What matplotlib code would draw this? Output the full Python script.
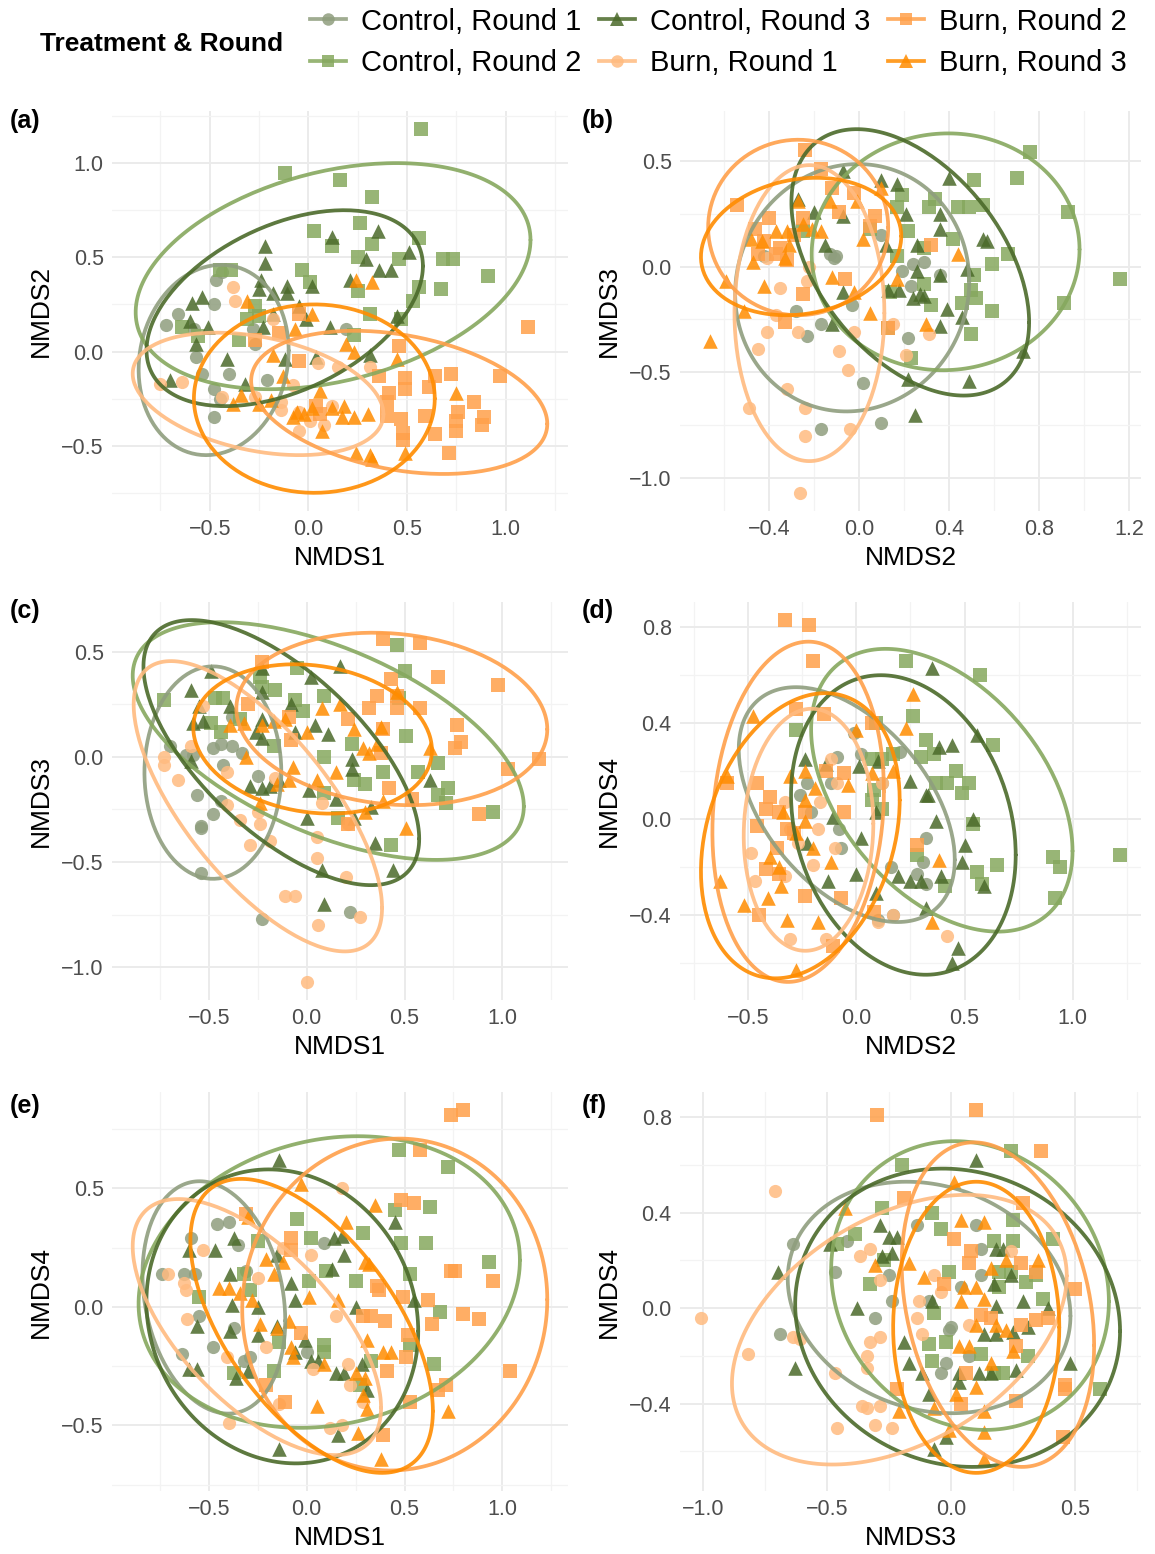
import numpy as np
import matplotlib
matplotlib.use("Agg")
import matplotlib.pyplot as plt
from matplotlib.lines import Line2D
from matplotlib.ticker import FixedLocator, FuncFormatter

plt.rcParams["font.family"] = ["Liberation Sans", "DejaVu Sans"]

GROUPS = ["Control, Round 1", "Control, Round 2", "Control, Round 3",
          "Burn, Round 1", "Burn, Round 2", "Burn, Round 3"]
COLORS = ["#8f9e7e", "#86a85e", "#4b6a2a", "#ffbb80", "#ffa04a", "#ff8c00"]
MARKERS = ["o", "s", "^", "o", "s", "^"]

# ---- (a) NMDS1 vs NMDS2 ----
a_ctl1 = [(-0.72, 0.14), (-0.66, 0.20), (-0.58, 0.12), (-0.48, 0.25), (-0.47, 0.38), (-0.44, 0.42), (-0.57, -0.03),
          (-0.54, -0.12), (-0.40, -0.12), (-0.21, -0.15), (-0.48, -0.20), (-0.48, -0.35), (-0.28, 0.12), (-0.27, 0.04),
          (0.19, 0.12), (-0.45, -0.25)]
a_ctl2 = [(0.57, 1.18), (-0.12, 0.95), (0.16, 0.91), (0.32, 0.82), (0.26, 0.68), (0.03, 0.64), (0.56, 0.60), (0.32, 0.57),
          (0.12, 0.56), (0.25, 0.50), (0.46, 0.49), (0.68, 0.49), (0.73, 0.49), (0.91, 0.40), (-0.03, 0.43), (0.01, 0.37),
          (0.67, 0.33), (0.56, 0.34), (0.25, 0.32), (0.53, 0.27), (0.31, 0.20), (0.47, 0.17), (-0.45, 0.43), (-0.39, 0.43),
          (-0.27, 0.24), (-0.31, 0.17), (-0.64, 0.13), (-0.56, 0.08), (-0.35, 0.06), (0.23, 0.09), (-0.25, 0.19)]
a_ctl3 = [(-0.22, 0.56), (-0.22, 0.47), (-0.24, 0.38), (-0.54, 0.29), (-0.59, 0.26), (-0.25, 0.33), (-0.18, 0.31),
          (-0.11, 0.35), (-0.11, 0.31), (-0.05, 0.24), (0.02, 0.35), (0.12, 0.61), (0.35, 0.64), (0.29, 0.49), (0.36, 0.43),
          (0.42, 0.43), (0.51, 0.53), (0.21, 0.38), (-0.60, 0.16), (-0.51, 0.13), (-0.23, 0.13), (-0.18, 0.20), (-0.01, 0.17),
          (0.11, 0.13), (-0.57, 0.04), (-0.41, -0.04), (-0.12, -0.04), (0.04, -0.03), (0.31, -0.02), (-0.70, -0.15),
          (-0.32, -0.17), (0.45, 0.19)]
a_brn1 = [(-0.38, 0.34), (-0.37, 0.27), (-0.75, -0.17), (-0.64, -0.16), (-0.44, -0.24), (-0.27, -0.24), (-0.14, -0.27),
          (-0.05, -0.32), (0.01, -0.37), (0.08, -0.39), (-0.05, -0.42), (-0.08, -0.18), (0.05, -0.06), (0.15, -0.08),
          (0.31, -0.08), (-0.18, 0.17), (-0.14, -0.31), (0.12, -0.29)]
a_brn2 = [(1.11, 0.13), (0.97, -0.13), (0.84, -0.27), (0.89, -0.35), (0.88, -0.39), (0.76, -0.32), (0.75, -0.37),
          (0.75, -0.42), (0.72, -0.12), (0.64, -0.13), (0.61, -0.19), (0.59, -0.34), (0.64, -0.44), (0.71, -0.54),
          (0.49, -0.14), (0.49, -0.20), (0.41, -0.22), (0.40, -0.27), (0.40, -0.34), (0.47, -0.36), (0.48, -0.43),
          (0.48, -0.47), (0.36, -0.13), (0.46, 0.03), (-0.05, -0.05), (-0.15, 0.10), (-0.27, 0.06), (-0.05, 0.20),
          (0.04, -0.29), (0.06, -0.33)]
a_brn3 = [(0.24, 0.38), (0.32, 0.37), (-0.31, 0.27), (0.02, 0.20), (-0.07, 0.12), (0.19, 0.04), (0.23, 0.0), (-0.18, -0.02),
          (-0.13, -0.13), (0.45, -0.04), (0.75, -0.22), (0.06, -0.21), (-0.34, -0.23), (-0.38, -0.28), (-0.25, -0.28),
          (-0.19, -0.26), (-0.08, -0.35), (-0.06, -0.32), (0.02, -0.30), (0.12, -0.30), (0.18, -0.29), (0.17, -0.35),
          (0.23, -0.35), (0.30, -0.33), (0.07, -0.42), (0.24, -0.54), (0.31, -0.55), (0.32, -0.57), (0.49, -0.54),
          (-0.02, -0.33)]

# ---- (b) NMDS2 vs NMDS3 ----
b_ctl1 = [(-0.42, 0.05), (-0.13, 0.06), (-0.11, 0.04), (-0.10, 0.05), (0.10, 0.15), (0.19, -0.02), (0.24, 0.01),
          (0.29, 0.02), (0.23, -0.09), (-0.03, -0.18), (-0.28, -0.21), (-0.23, -0.33), (-0.17, -0.27), (0.22, -0.34),
          (0.02, -0.55), (-0.17, -0.77), (0.10, -0.74), (0.36, -0.04)]
b_ctl2 = [(0.76, 0.54), (0.70, 0.42), (0.93, 0.26), (0.51, 0.41), (0.34, 0.32), (0.31, 0.28), (0.44, 0.28), (0.49, 0.28),
          (0.55, 0.29), (0.19, 0.34), (0.17, 0.28), (0.22, 0.17), (0.42, 0.13), (0.29, 0.09), (0.66, 0.06), (0.59, 0.01),
          (0.51, -0.04), (0.29, -0.08), (0.50, -0.11), (0.52, -0.15), (0.46, -0.17), (0.32, -0.18), (0.59, -0.21),
          (1.16, -0.06), (0.91, -0.17), (0.50, -0.32), (0.23, -0.43), (0.13, -0.29), (0.14, -0.12), (0.05, 0.18),
          (-0.25, 0.17), (0.17, 0.05)]
b_ctl3 = [(-0.07, 0.45), (0.10, 0.41), (0.17, 0.39), (0.40, 0.42), (-0.27, 0.32), (-0.20, 0.26), (-0.07, 0.24), (0.21, 0.25),
          (0.36, 0.25), (0.36, 0.18), (-0.15, 0.10), (0.12, 0.10), (0.26, 0.10), (0.55, 0.13), (0.57, 0.12), (0.26, -0.02),
          (0.36, -0.04), (0.48, -0.01), (0.13, -0.11), (0.18, -0.11), (0.27, -0.13), (0.24, -0.15), (0.29, -0.14),
          (0.39, -0.20), (-0.07, -0.12), (0.46, -0.24), (0.36, -0.28), (-0.12, -0.27), (0.73, -0.40), (0.22, -0.53),
          (0.49, -0.54), (0.25, -0.70)]
b_brn1 = [(-0.35, -0.10), (-0.23, -0.07), (-0.22, 0.0), (-0.41, -0.31), (-0.45, -0.39), (-0.27, -0.31), (-0.09, -0.40),
          (-0.05, -0.49), (-0.32, -0.58), (-0.49, -0.67), (-0.24, -0.67), (-0.24, -0.80), (-0.04, -0.77), (-0.26, -1.07),
          (0.15, -0.27), (0.31, -0.32), (0.21, -0.42), (-0.02, -0.31), (-0.37, -0.23), (-0.41, 0.04)]
b_brn2 = [(-0.24, 0.55), (-0.17, 0.46), (-0.54, 0.29), (-0.40, 0.23), (-0.46, 0.18), (-0.42, 0.12), (-0.45, 0.06),
          (-0.35, 0.09), (-0.29, 0.15), (-0.25, 0.23), (-0.09, 0.26), (-0.02, 0.35), (-0.12, 0.37), (0.07, 0.24),
          (0.05, 0.19), (0.32, 0.10), (-0.06, -0.06), (-0.25, -0.13), (-0.33, -0.26), (0.13, -0.29), (-0.37, 0.06),
          (-0.32, 0.03)]
b_brn3 = [(-0.66, -0.35), (-0.59, -0.07), (-0.51, -0.21), (-0.47, 0.02), (-0.42, -0.09), (-0.48, 0.13), (-0.43, 0.12),
          (-0.37, 0.17), (-0.32, 0.17), (-0.33, 0.04), (-0.31, 0.10), (-0.25, 0.20), (-0.21, 0.18), (-0.17, 0.17),
          (-0.13, 0.31), (-0.01, 0.31), (-0.12, -0.05), (-0.02, -0.12), (0.02, 0.13), (0.10, 0.37), (0.17, -0.06),
          (0.05, -0.22), (0.30, -0.27), (0.44, 0.06), (-0.27, 0.31)]

# ---- (c) NMDS1 vs NMDS3 ----
c_ctl1 = [(-0.70, 0.05), (-0.62, 0.01), (-0.58, 0.01), (-0.48, 0.04), (-0.44, 0.06), (-0.38, 0.05), (-0.33, 0.02),
          (-0.43, -0.04), (-0.25, -0.09), (-0.56, -0.18), (-0.48, -0.27), (-0.44, -0.21), (-0.54, -0.33), (-0.54, -0.34),
          (-0.54, -0.55), (-0.23, -0.77), (0.22, -0.74), (-0.38, 0.19)]
c_ctl2 = [(-0.73, 0.27), (-0.47, 0.28), (-0.43, 0.28), (-0.44, 0.12), (-0.49, 0.16), (-0.24, 0.38), (-0.23, 0.33),
          (-0.16, 0.32), (-0.06, 0.27), (-0.02, 0.22), (-0.05, 0.42), (0.09, 0.29), (0.46, 0.53), (0.50, 0.41), (0.47, 0.28),
          (0.51, 0.10), (0.23, 0.06), (0.09, 0.0), (0.39, -0.07), (0.57, -0.07), (0.67, -0.03), (0.24, -0.11), (0.30, -0.13),
          (0.67, -0.18), (0.72, -0.15), (0.71, -0.22), (0.95, -0.26), (0.09, -0.17), (0.16, -0.29), (0.43, -0.42),
          (-0.17, 0.05), (-0.34, 0.18)]
c_ctl3 = [(-0.49, 0.41), (-0.59, 0.32), (-0.55, 0.24), (-0.58, 0.16), (-0.53, 0.17), (-0.39, 0.24), (-0.23, 0.31),
          (-0.23, 0.42), (-0.08, 0.25), (0.02, 0.38), (0.17, 0.43), (-0.26, 0.12), (-0.23, 0.18), (-0.06, 0.12), (0.04, 0.15),
          (0.11, 0.11), (-0.23, 0.09), (-0.59, -0.02), (-0.29, -0.14), (-0.23, -0.15), (-0.19, -0.14), (-0.14, -0.11),
          (0.01, -0.16), (0.23, -0.01), (0.23, -0.06), (0.15, -0.20), (0.33, -0.24), (0.63, -0.11), (0.0, -0.29),
          (0.24, -0.29), (0.35, -0.41), (0.08, -0.54), (0.44, -0.54), (0.09, -0.70)]
c_brn1 = [(-0.73, -0.04), (-0.66, -0.11), (-0.73, 0.0), (-0.59, 0.05), (-0.41, -0.07), (-0.41, -0.23), (-0.34, -0.30),
          (-0.25, -0.26), (-0.24, -0.32), (-0.29, -0.42), (-0.19, -0.40), (-0.16, -0.10), (0.08, -0.22), (0.05, -0.38),
          (0.05, -0.48), (0.20, -0.57), (-0.11, -0.66), (-0.06, -0.66), (0.06, -0.80), (0.27, -0.76), (0.0, -1.07),
          (0.21, -0.32), (-0.53, 0.24)]
c_brn2 = [(0.39, 0.56), (0.58, 0.54), (0.67, 0.38), (0.98, 0.34), (0.43, 0.37), (0.36, 0.29), (0.46, 0.29), (0.58, 0.23),
          (0.32, 0.23), (0.46, 0.23), (0.77, 0.15), (0.79, 0.07), (0.76, 0.04), (1.19, -0.01), (1.03, -0.06), (0.39, 0.13),
          (0.38, 0.02), (0.42, -0.15), (0.54, -0.20), (0.88, -0.27), (0.21, -0.32), (-0.23, 0.45), (-0.30, 0.25),
          (-0.09, 0.19), (-0.08, 0.08), (0.21, 0.18)]
c_brn3 = [(0.46, 0.31), (0.17, 0.25), (0.08, 0.23), (-0.11, 0.18), (-0.17, 0.17), (-0.32, 0.16), (-0.39, 0.15),
          (-0.23, 0.15), (0.0, 0.12), (0.24, 0.13), (0.38, 0.14), (0.29, 0.04), (0.32, 0.02), (0.36, 0.06), (0.63, 0.04),
          (-0.07, -0.05), (-0.09, -0.11), (-0.15, -0.13), (0.05, -0.11), (0.15, -0.07), (-0.31, 0.0), (-0.24, -0.22),
          (0.30, -0.26), (0.39, -0.21), (0.51, -0.34)]

# ---- (d) NMDS2 vs NMDS4 ----
d_ctl1 = [(-0.01, 0.36), (-0.09, 0.26), (0.02, 0.27), (0.20, 0.28), (-0.23, 0.15), (-0.12, 0.15), (-0.26, 0.10),
          (-0.21, 0.03), (0.12, 0.15), (-0.08, -0.04), (-0.07, -0.12), (0.32, -0.08), (0.31, -0.18), (0.16, -0.20),
          (0.28, -0.23), (0.32, -0.27), (0.17, -0.40), (0.10, -0.42)]
d_ctl2 = [(0.23, 0.66), (0.57, 0.60), (0.26, 0.43), (-0.28, 0.37), (0.09, 0.40), (0.32, 0.33), (0.63, 0.31), (0.36, 0.27),
          (0.30, 0.26), (0.07, 0.25), (0.12, 0.25), (0.17, 0.27), (0.46, 0.20), (0.52, 0.15), (0.49, 0.11), (0.37, 0.15),
          (0.42, 0.15), (0.08, 0.12), (0.07, 0.08), (0.12, 0.04), (0.54, -0.02), (0.28, -0.15), (0.65, -0.19), (0.56, -0.22),
          (0.58, -0.27), (0.41, -0.28), (0.91, -0.16), (0.94, -0.20), (0.92, -0.33), (1.22, -0.15)]
d_ctl3 = [(0.35, 0.63), (0.56, 0.35), (0.38, 0.30), (0.44, 0.31), (-0.24, 0.25), (-0.14, 0.23), (0.01, 0.22), (0.10, 0.24),
          (0.25, 0.16), (0.32, 0.10), (0.33, 0.10), (0.09, 0.03), (-0.11, 0.01), (0.37, -0.01), (0.54, 0.0), (0.02, -0.08),
          (-0.23, -0.10), (0.50, -0.11), (0.49, -0.18), (0.0, -0.23), (-0.13, -0.26), (0.19, -0.24), (0.25, -0.26),
          (0.30, -0.26), (0.39, -0.24), (0.59, -0.28), (0.09, -0.31), (0.32, -0.37), (0.47, -0.54), (0.44, -0.60)]
d_brn1 = [(-0.33, 0.07), (-0.17, 0.07), (-0.09, 0.15), (-0.12, 0.25), (-0.31, -0.04), (-0.18, -0.04), (-0.49, -0.14),
          (-0.47, -0.26), (-0.33, -0.24), (-0.20, -0.19), (-0.27, -0.10), (-0.10, -0.12), (-0.31, -0.50), (-0.14, -0.50),
          (0.10, -0.43), (0.17, -0.40), (0.42, -0.49), (0.12, 0.15)]
d_brn2 = [(-0.33, 0.83), (-0.22, 0.81), (-0.20, 0.66), (-0.28, 0.46), (-0.15, 0.44), (0.07, 0.40), (-0.60, 0.15),
          (-0.46, 0.15), (-0.40, 0.09), (-0.42, 0.04), (-0.36, 0.03), (-0.46, -0.03), (-0.32, -0.04), (-0.24, 0.03),
          (-0.14, 0.20), (-0.06, 0.19), (-0.06, 0.03), (-0.29, -0.06), (-0.37, -0.12), (-0.42, -0.21), (-0.36, -0.23),
          (-0.24, -0.32), (-0.07, -0.33), (-0.45, -0.40), (0.08, -0.39), (0.28, -0.11), (-0.11, -0.53)]
d_brn3 = [(-0.48, 0.43), (-0.60, 0.18), (-0.63, -0.26), (-0.52, -0.36), (-0.41, -0.33), (-0.32, -0.42), (-0.18, -0.43),
          (-0.28, -0.63), (0.26, 0.52), (0.23, 0.38), (0.0, 0.37), (-0.31, 0.18), (-0.24, 0.20), (-0.04, 0.14), (0.07, 0.19),
          (0.17, 0.20), (-0.19, 0.13), (-0.24, 0.08), (-0.34, 0.03), (-0.24, -0.01), (-0.40, -0.16), (-0.36, -0.20),
          (-0.35, -0.28), (-0.12, -0.18), (0.38, -0.17), (0.35, -0.43), (-0.28, -0.06), (-0.20, -0.12)]

# ---- (e) NMDS1 vs NMDS4 ----
e_ctl1 = [(-0.46, 0.35), (-0.40, 0.36), (-0.59, 0.29), (-0.35, 0.26), (-0.74, 0.14), (-0.63, 0.14), (-0.57, 0.14),
          (-0.31, 0.15), (0.09, 0.27), (-0.55, -0.04), (-0.37, -0.09), (-0.48, -0.17), (-0.64, -0.20), (-0.32, -0.23),
          (-0.29, -0.21), (0.0, -0.19)]
e_ctl2 = [(0.47, 0.66), (0.72, 0.59), (0.45, 0.41), (0.63, 0.42), (-0.05, 0.37), (0.29, 0.31), (0.02, 0.29), (0.48, 0.27),
          (0.61, 0.27), (-0.25, 0.28), (0.93, 0.19), (0.10, 0.15), (0.53, 0.14), (-0.32, 0.14), (0.01, 0.11), (0.25, 0.11),
          (-0.29, 0.07), (-0.55, 0.04), (0.68, -0.02), (-0.14, -0.15), (0.09, -0.16), (0.09, -0.19), (0.53, -0.16),
          (0.33, -0.23), (0.65, -0.24), (-0.17, -0.27), (-0.37, -0.28), (0.27, -0.33)]
e_ctl3 = [(-0.14, 0.62), (0.45, 0.36), (-0.37, 0.29), (0.14, 0.29), (0.18, 0.30), (-0.60, 0.24), (-0.47, 0.24),
          (-0.15, 0.22), (0.19, 0.22), (-0.39, 0.14), (0.13, 0.16), (-0.08, 0.10), (-0.06, 0.03), (-0.38, 0.01), (-0.25, 0.0),
          (0.25, 0.0), (0.55, 0.03), (-0.56, -0.08), (-0.39, -0.10), (-0.25, -0.12), (-0.15, -0.08), (-0.01, -0.14),
          (-0.06, -0.19), (0.02, -0.23), (0.06, -0.23), (0.15, -0.28), (0.19, -0.28), (-0.60, -0.26), (-0.56, -0.26),
          (-0.36, -0.30), (-0.30, -0.27), (0.28, -0.24), (0.31, -0.35), (0.16, -0.54), (-0.14, -0.60)]
e_brn1 = [(0.18, 0.50), (-0.53, 0.24), (-0.12, 0.25), (0.02, 0.22), (-0.71, 0.14), (-0.63, 0.10), (-0.62, 0.07),
          (-0.61, -0.05), (0.15, -0.04), (-0.21, -0.17), (-0.41, -0.21), (0.03, -0.26), (0.21, -0.24), (-0.14, -0.41),
          (0.29, -0.40), (-0.40, -0.49), (0.12, -0.51), (0.18, -0.50), (-0.25, 0.12), (0.22, -0.33)]
e_brn2 = [(0.74, 0.81), (0.80, 0.83), (0.58, 0.66), (0.48, 0.45), (0.55, 0.44), (-0.31, 0.39), (-0.08, 0.29), (-0.08, 0.24),
          (0.74, 0.15), (0.76, 0.15), (0.95, 0.11), (0.36, 0.09), (0.37, 0.07), (0.49, 0.04), (0.62, 0.03), (0.29, -0.04),
          (0.33, -0.04), (0.80, -0.03), (0.88, -0.05), (0.40, -0.06), (0.64, -0.07), (0.52, -0.12), (-0.03, -0.11),
          (0.51, -0.21), (0.41, -0.27), (1.04, -0.27), (0.71, -0.33), (0.67, -0.35), (0.53, -0.40), (-0.11, -0.40),
          (0.39, -0.54), (-0.21, -0.33)]
e_brn3 = [(-0.03, 0.52), (0.35, 0.43), (-0.30, 0.38), (0.20, 0.36), (-0.21, 0.20), (-0.12, 0.19), (-0.17, 0.14),
          (0.30, 0.19), (0.32, 0.18), (-0.45, 0.08), (-0.40, 0.08), (-0.34, 0.06), (-0.28, 0.03), (0.01, 0.04), (0.16, 0.03),
          (-0.24, -0.07), (-0.09, -0.06), (-0.15, -0.09), (-0.08, -0.17), (-0.07, -0.21), (0.31, -0.14), (0.39, -0.19),
          (0.43, -0.19), (0.09, -0.24), (0.25, -0.28), (0.29, -0.37), (0.05, -0.42), (0.31, -0.43), (0.72, -0.44),
          (0.26, -0.53), (0.38, -0.64), (0.30, -0.30)]

# ---- (f) NMDS3 vs NMDS4 ----
f_ctl1 = [(-0.64, 0.27), (-0.42, 0.28), (-0.14, 0.35), (0.10, 0.35), (0.12, 0.25), (-0.47, 0.15), (-0.25, 0.14),
          (-0.24, 0.03), (-0.31, -0.04), (-0.09, 0.03), (0.04, 0.09), (0.12, 0.14), (-0.69, -0.11), (-0.01, -0.09),
          (0.0, -0.08), (-0.04, -0.27), (0.07, -0.20), (-0.02, -0.23)]
f_ctl2 = [(0.24, 0.66), (-0.20, 0.60), (-0.28, 0.42), (-0.08, 0.40), (-0.39, 0.31), (-0.46, 0.27), (-0.04, 0.33),
          (0.25, 0.37), (0.25, 0.28), (0.17, 0.28), (0.41, 0.29), (-0.27, 0.20), (-0.01, 0.15), (0.19, 0.15), (0.24, 0.15),
          (0.30, 0.11), (0.34, 0.14), (0.19, 0.09), (0.37, 0.04), (-0.33, 0.10), (-0.07, -0.02), (-0.09, -0.15),
          (-0.02, -0.14), (-0.08, -0.22), (0.12, -0.19), (0.31, -0.20), (0.21, -0.27), (0.60, -0.34), (0.17, -0.27)]
f_ctl3 = [(0.10, 0.62), (-0.29, 0.35), (-0.25, 0.30), (-0.22, 0.30), (-0.28, 0.22), (-0.24, 0.23), (-0.49, 0.27),
          (-0.70, 0.15), (0.18, 0.25), (0.21, 0.25), (0.17, 0.10), (0.24, 0.14), (0.29, 0.03), (-0.38, 0.0), (-0.08, 0.03),
          (0.18, 0.01), (0.39, 0.0), (0.13, -0.11), (0.18, -0.11), (0.25, -0.10), (0.31, -0.08), (-0.19, -0.14),
          (-0.17, -0.23), (-0.12, -0.27), (0.03, -0.27), (0.11, -0.27), (0.16, -0.27), (0.26, -0.26), (0.48, -0.23),
          (-0.63, -0.25), (0.03, -0.31), (-0.09, -0.36), (-0.02, -0.54), (-0.07, -0.59)]
f_brn1 = [(-0.71, 0.49), (-1.01, -0.04), (-0.82, -0.19), (-0.64, -0.12), (-0.61, -0.13), (-0.37, 0.22), (-0.33, 0.25),
          (-0.29, 0.12), (-0.13, 0.03), (-0.14, -0.04), (-0.12, -0.11), (-0.33, -0.14), (-0.29, -0.12), (-0.34, -0.20),
          (-0.34, -0.25), (-0.47, -0.27), (-0.36, -0.41), (-0.34, -0.42), (-0.29, -0.41), (-0.31, -0.49), (-0.24, -0.50),
          (-0.46, -0.50), (-0.04, 0.07), (0.07, -0.07), (0.24, 0.24), (-0.07, 0.14)]
f_brn2 = [(-0.30, 0.81), (0.10, 0.83), (0.36, 0.66), (-0.19, 0.46), (0.29, 0.44), (0.01, 0.29), (0.08, 0.24), (0.07, 0.19),
          (0.28, 0.19), (0.34, 0.15), (-0.03, 0.10), (0.50, 0.08), (0.12, -0.03), (0.16, -0.04), (0.28, -0.07), (0.34, -0.05),
          (0.39, -0.04), (0.06, -0.27), (0.26, -0.16), (0.46, -0.32), (0.46, -0.34), (0.26, -0.39), (0.04, -0.40),
          (0.45, -0.54), (-0.22, -0.34)]
f_brn3 = [(-0.43, 0.42), (0.01, 0.53), (0.04, 0.37), (0.13, 0.36), (-0.31, 0.18), (-0.17, 0.19), (-0.11, 0.13), (0.05, 0.09),
          (0.10, 0.09), (0.04, 0.03), (0.13, 0.04), (0.16, 0.17), (0.22, 0.20), (0.35, 0.20), (0.10, -0.07), (0.18, -0.07),
          (0.22, -0.09), (0.03, -0.16), (0.07, -0.16), (0.25, -0.18), (0.16, -0.23), (0.10, -0.33), (0.02, -0.36),
          (-0.07, -0.42), (0.13, -0.43), (-0.21, -0.43), (0.13, -0.52), (0.13, -0.63), (-0.01, -0.51)]

# 95% ellipses per group: (centre x, centre y, half-extent x, half-extent y, correlation)
ell_a = [(-0.48, -0.045, 0.38, 0.505, 0.10), (0.125, 0.40, 1.0, 0.60, 0.32), (-0.12, 0.23, 0.70, 0.52, 0.43),
         (-0.255, -0.225, 0.635, 0.325, -0.33), (0.46, -0.27, 0.75, 0.38, -0.30), (0.03, -0.25, 0.61, 0.50, 0.0)]
ell_b = [(-0.03, -0.10, 0.52, 0.585, 0.05), (0.385, 0.07, 0.595, 0.56, 0.02), (0.228, 0.02, 0.528, 0.63, -0.45),
         (-0.22, -0.22, 0.333, 0.70, 0.0), (-0.27, 0.185, 0.40, 0.415, 0.0), (-0.257, 0.095, 0.445, 0.325, 0.15)]
ell_c = [(-0.48, -0.075, 0.35, 0.505, 0.0), (0.11, 0.075, 1.0, 0.565, -0.55), (-0.13, 0.02, 0.705, 0.63, -0.65),
         (-0.25, -0.235, 0.635, 0.69, -0.70), (0.435, 0.18, 0.795, 0.41, -0.12), (0.03, 0.085, 0.61, 0.355, -0.15)]
ell_d = [(-0.045, 0.06, 0.50, 0.49, -0.47), (0.395, 0.12, 0.605, 0.59, -0.43), (0.217, -0.025, 0.52, 0.625, -0.20),
         (-0.222, -0.045, 0.30, 0.505, 0.05), (-0.27, 0.03, 0.397, 0.71, 0.12), (-0.26, -0.07, 0.46, 0.595, 0.25)]
ell_e = [(-0.475, 0.04, 0.365, 0.49, -0.20), (0.115, 0.105, 0.975, 0.615, 0.15), (-0.125, -0.04, 0.695, 0.62, -0.10),
         (-0.255, -0.085, 0.635, 0.54, -0.63), (0.45, 0.01, 0.78, 0.70, 0.03), (0.025, -0.08, 0.62, 0.62, -0.58)]
ell_f = [(-0.09, 0.045, 0.57, 0.485, -0.16), (0.075, 0.095, 0.56, 0.605, -0.11), (0.025, -0.04, 0.655, 0.625, -0.09),
         (-0.21, -0.09, 0.675, 0.565, 0.40), (0.1875, 0.015, 0.388, 0.68, -0.25), (0.10, -0.08, 0.335, 0.61, 0.0)]

PANELS = [
    ("(a)", "NMDS1", "NMDS2", [a_ctl1, a_ctl2, a_ctl3, a_brn1, a_brn2, a_brn3], ell_a, 0.5, 0.5),
    ("(b)", "NMDS2", "NMDS3", [b_ctl1, b_ctl2, b_ctl3, b_brn1, b_brn2, b_brn3], ell_b, 0.4, 0.5),
    ("(c)", "NMDS1", "NMDS3", [c_ctl1, c_ctl2, c_ctl3, c_brn1, c_brn2, c_brn3], ell_c, 0.5, 0.5),
    ("(d)", "NMDS2", "NMDS4", [d_ctl1, d_ctl2, d_ctl3, d_brn1, d_brn2, d_brn3], ell_d, 0.5, 0.4),
    ("(e)", "NMDS1", "NMDS4", [e_ctl1, e_ctl2, e_ctl3, e_brn1, e_brn2, e_brn3], ell_e, 0.5, 0.5),
    ("(f)", "NMDS3", "NMDS4", [f_ctl1, f_ctl2, f_ctl3, f_brn1, f_brn2, f_brn3], ell_f, 0.5, 0.4),
]


def ellipse_path(cx, cy, rx, ry, rho, n=200):
    t = np.linspace(0, 2 * np.pi, n)
    d = np.arccos(rho)
    return cx + rx * np.cos(t), cy + ry * np.cos(t - d)


def breaks(lo, hi, step):
    # only the breaks that fall inside the visible range
    k0 = int(np.ceil(lo / step - 1e-9))
    k1 = int(np.floor(hi / step + 1e-9))
    return [round(k * step, 6) for k in range(k0, k1 + 1)]


def fmt(v, _):
    s = f"{v:.1f}"
    if s == "-0.0":
        s = "0.0"
    return s.replace("-", "\u2212")


W, H = 1155, 1554
fig = plt.figure(figsize=(W / 100, H / 100), dpi=100)

col_x = [(112, 568), (680, 1141)]
row_y = [(111, 511), (602, 1000), (1092, 1491)]
tag_y = [121, 611, 1106]

for i, (tag, xlab, ylab, groups, ells, xstep, ystep) in enumerate(PANELS):
    r, c = divmod(i, 2)
    x0, x1 = col_x[c]
    y0, y1 = row_y[r]
    ax = fig.add_axes([x0 / W, 1 - y1 / H, (x1 - x0) / W, (y1 - y0) / H])

    xs_all, ys_all = [], []
    for pts, col, mk in zip(groups, COLORS, MARKERS):
        px = [p[0] for p in pts]
        py = [p[1] for p in pts]
        xs_all += px
        ys_all += py
        ax.scatter(px, py, s=110 if mk == "^" else 90, marker=mk, color=col,
                   alpha=0.85, linewidths=0, zorder=3)
    for (cx, cy, rx, ry, rho), col in zip(ells, COLORS):
        ex, ey = ellipse_path(cx, cy, rx, ry, rho)
        xs_all += list(ex)
        ys_all += list(ey)
        ax.plot(ex, ey, color=col, lw=2.7, alpha=0.9, zorder=4, solid_capstyle="round")

    # 5% expansion around everything drawn
    xmin, xmax = min(xs_all), max(xs_all)
    ymin, ymax = min(ys_all), max(ys_all)
    dx, dy = (xmax - xmin) * 0.05, (ymax - ymin) * 0.05
    xlo, xhi = xmin - dx, xmax + dx
    ylo, yhi = ymin - dy, ymax + dy
    ax.set_xlim(xlo, xhi)
    ax.set_ylim(ylo, yhi)

    ax.xaxis.set_major_locator(FixedLocator(breaks(xlo, xhi, xstep)))
    ax.xaxis.set_minor_locator(FixedLocator(breaks(xlo, xhi, xstep / 2)))
    ax.yaxis.set_major_locator(FixedLocator(breaks(ylo, yhi, ystep)))
    ax.yaxis.set_minor_locator(FixedLocator(breaks(ylo, yhi, ystep / 2)))
    ax.xaxis.set_major_formatter(FuncFormatter(fmt))
    ax.yaxis.set_major_formatter(FuncFormatter(fmt))
    ax.grid(which="minor", color="#f3f3f3", lw=0.9, zorder=0)
    ax.grid(which="major", color="#ebebeb", lw=1.4, zorder=0)
    ax.set_axisbelow(True)
    for sp in ax.spines.values():
        sp.set_visible(False)
    ax.tick_params(which="both", length=0, labelsize=15.5, labelcolor="#4d4d4d", pad=6)
    ax.set_xlabel(xlab, fontsize=19, labelpad=4)
    ax.set_ylabel(ylab, fontsize=19, labelpad=6)

    fig.text((10 if c == 0 else 582) / W, 1 - tag_y[r] / H, tag, fontsize=18,
             fontweight="bold", ha="left", va="center")

# legend across the top
handles = [Line2D([0], [0], color=col, lw=2.7, marker=mk, markersize=10 if mk == "^" else 9,
                  markeredgewidth=0, alpha=0.85)
           for col, mk in zip(COLORS, MARKERS)]
fig.text(40 / W, 1 - 44 / H, "Treatment & Round", fontsize=19, fontweight="bold",
         ha="left", va="center")
fig.legend(handles, GROUPS, loc="upper left", bbox_to_anchor=(298 / W, 1 + 4 / H), ncol=3,
           frameon=False, fontsize=21, handlelength=1.25, handletextpad=0.5,
           columnspacing=0.6, labelspacing=0.45, borderaxespad=0)

fig.savefig("out.png", dpi=100)
